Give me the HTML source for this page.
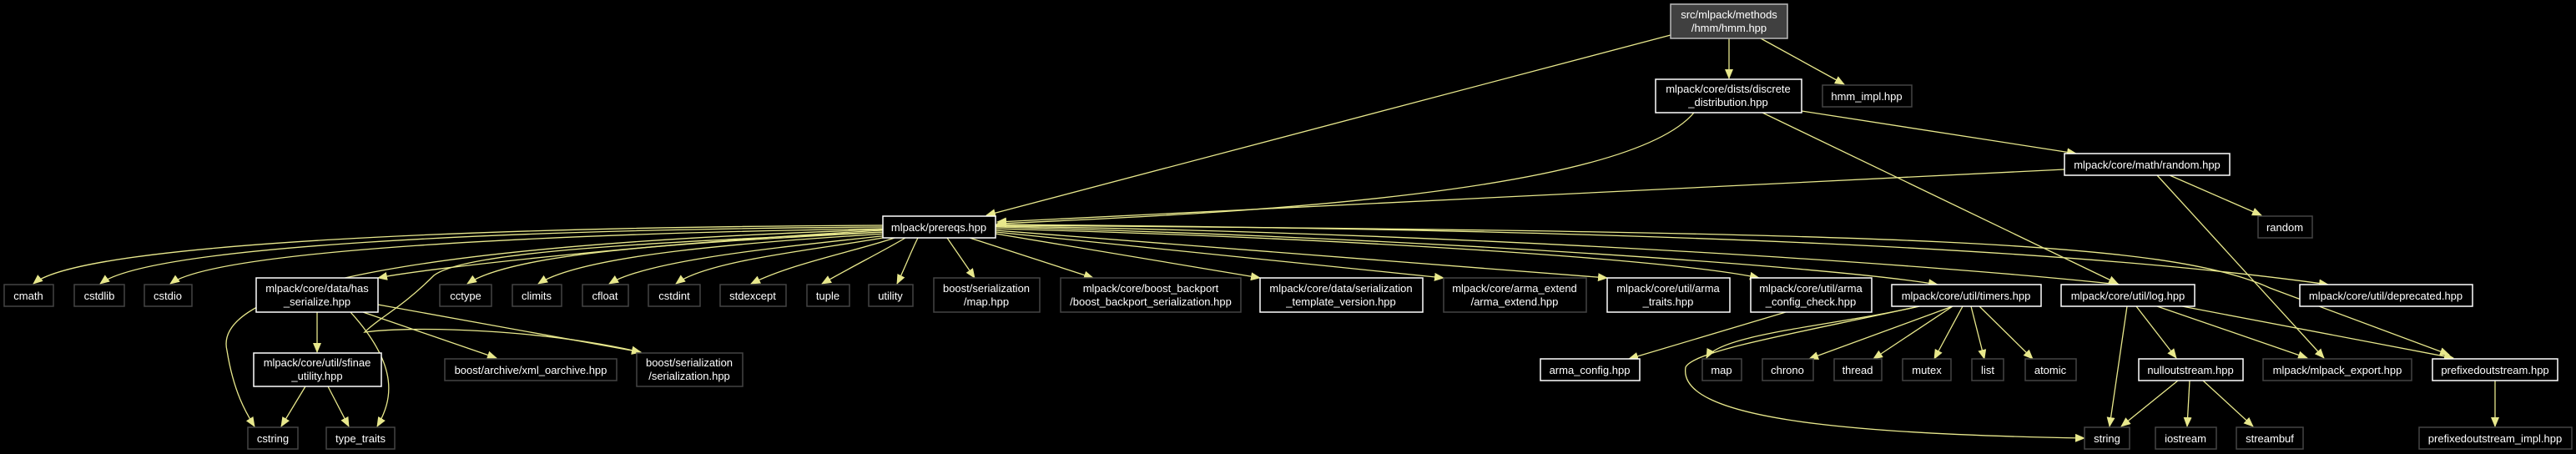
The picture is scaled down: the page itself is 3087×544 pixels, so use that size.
<!DOCTYPE html>
<html><head><meta charset="utf-8"><style>
html,body{margin:0;padding:0;background:#000;}
svg{display:block;}
text{font-family:"Liberation Sans",Arial,sans-serif;font-size:13px;fill:#fff;text-anchor:middle;}
.e{fill:none;stroke:#e8e88c;stroke-width:1.3;}
.W{fill:#000;stroke:#fff;stroke-width:1.5;}
.G{fill:#000;stroke:#444;stroke-width:1.5;}
</style></head><body>
<svg width="3087" height="544" viewBox="0 0 3087 544" xmlns="http://www.w3.org/2000/svg">
<defs><marker id="a" markerWidth="12" markerHeight="10" refX="11" refY="5" orient="auto" markerUnits="userSpaceOnUse"><path d="M0,0 L12,5 L0,10 z" fill="#e8e88c"/></marker></defs>
<g class="e" marker-end="url(#a)">
<path d="M2002,42 L1182,258"/>
<path d="M2072,46 L2072,94"/>
<path d="M2110,46 L2210,101"/>
<path d="M2030,135 C1950,230 1500,255 1195,268"/>
<path d="M2112,135 L2538,340"/>
<path d="M2159,133 L2488,184"/>
<path d="M2474,203 L1195,266"/>
<path d="M2600,210 L2710,258"/>
<path d="M2585,210 L2785,429"/>
<path d="M1058,270 C600,272 100,290 40,340"/>
<path d="M1058,272 C600,275 180,295 120,340"/>
<path d="M1058,274 C650,280 260,300 204,340"/>
<path d="M1058,276 C800,290 520,320 453,333"/>
<path d="M1060,278 C850,290 620,300 560,340"/>
<path d="M1062,280 C900,290 700,305 645,340"/>
<path d="M1064,282 C950,295 780,310 730,340"/>
<path d="M1068,283 C1000,297 850,310 810,340"/>
<path d="M1075,284 C1030,300 950,315 900,340"/>
<path d="M1085,285 C1060,300 1020,320 985,340"/>
<path d="M1100,285 C1090,305 1085,320 1075,340"/>
<path d="M1135,285 L1168,333"/>
<path d="M1162,285 L1310,333"/>
<path d="M1193,280 L1510,333"/>
<path d="M1193,278 L1730,333"/>
<path d="M1193,276 L1926,333"/>
<path d="M1193,274 C1600,285 2000,310 2108,333"/>
<path d="M1193,272 C1700,285 2200,320 2322,341"/>
<path d="M1193,271 C1800,280 2350,320 2540,341"/>
<path d="M1193,269 C2000,275 2500,300 2790,341"/>
<path d="M1193,270 C2300,278 2600,290 2720,345 L2935,425"/>
<path d="M1058,275 C600,290 250,330 272,420 C280,470 295,495 305,511"/>
<path d="M1058,278 C800,290 560,300 520,330 C480,370 455,380 437,398 C500,390 650,395 768,422"/>
<path d="M380,374 L380,422"/>
<path d="M420,374 C480,440 470,480 452,511"/>
<path d="M435,374 L595,429"/>
<path d="M453,365 L768,422"/>
<path d="M366,463 L337,511"/>
<path d="M393,463 L418,511"/>
<path d="M2140,374 L1952,430"/>
<path d="M2300,367 C2200,390 2060,400 2045,429"/>
<path d="M2300,367 C2150,400 2030,420 2020,440 C2010,500 2200,520 2498,525"/>
<path d="M2340,367 L2168,430"/>
<path d="M2340,367 L2245,430"/>
<path d="M2352,367 L2318,430"/>
<path d="M2362,367 L2378,430"/>
<path d="M2372,367 L2436,430"/>
<path d="M2549,367 L2528,511"/>
<path d="M2560,367 L2608,429"/>
<path d="M2585,367 L2765,429"/>
<path d="M2615,367 L2940,429"/>
<path d="M2610,456 L2542,511"/>
<path d="M2624,456 L2621,511"/>
<path d="M2640,456 L2700,511"/>
<path d="M2990,456 L2990,511"/>
</g>
<rect x="2002" y="5" width="140" height="41" fill="#404040" stroke="#bbb" stroke-width="1.5"/>
<text x="2072" y="22">src/mlpack/methods</text><text x="2072" y="38">/hmm/hmm.hpp</text>
<g>
<rect class="W" x="1984" y="95" width="175" height="40"/><text x="2071" y="111">mlpack/core/dists/discrete</text><text x="2071" y="127">_distribution.hpp</text>
<rect class="G" x="2184" y="102" width="107" height="26"/><text x="2237" y="120">hmm_impl.hpp</text>
<rect class="W" x="2474" y="184" width="198" height="26"/><text x="2573" y="202">mlpack/core/math/random.hpp</text>
<rect class="G" x="2706" y="259" width="65" height="26"/><text x="2738" y="277">random</text>
<rect class="W" x="1058" y="259" width="135" height="26"/><text x="1125" y="277">mlpack/prereqs.hpp</text>
<rect class="G" x="5" y="341" width="59" height="26"/><text x="34" y="359">cmath</text>
<rect class="G" x="89" y="341" width="60" height="26"/><text x="119" y="359">cstdlib</text>
<rect class="G" x="173" y="341" width="57" height="26"/><text x="201" y="359">cstdio</text>
<rect class="G" x="527" y="341" width="62" height="26"/><text x="558" y="359">cctype</text>
<rect class="G" x="614" y="341" width="59" height="26"/><text x="643" y="359">climits</text>
<rect class="G" x="698" y="341" width="55" height="26"/><text x="725" y="359">cfloat</text>
<rect class="G" x="777" y="341" width="62" height="26"/><text x="808" y="359">cstdint</text>
<rect class="G" x="863" y="341" width="79" height="26"/><text x="902" y="359">stdexcept</text>
<rect class="G" x="967" y="341" width="51" height="26"/><text x="992" y="359">tuple</text>
<rect class="G" x="1041" y="341" width="53" height="26"/><text x="1067" y="359">utility</text>
<rect class="W" x="307" y="333" width="146" height="41"/><text x="380" y="350">mlpack/core/data/has</text><text x="380" y="366">_serialize.hpp</text>
<rect class="G" x="1119" y="333" width="127" height="41"/><text x="1182" y="350">boost/serialization</text><text x="1182" y="366">/map.hpp</text>
<rect class="G" x="1271" y="333" width="216" height="41"/><text x="1379" y="350">mlpack/core/boost_backport</text><text x="1379" y="366">/boost_backport_serialization.hpp</text>
<rect class="W" x="1510" y="333" width="195" height="41"/><text x="1607" y="350">mlpack/core/data/serialization</text><text x="1607" y="366">_template_version.hpp</text>
<rect class="G" x="1730" y="333" width="171" height="41"/><text x="1815" y="350">mlpack/core/arma_extend</text><text x="1815" y="366">/arma_extend.hpp</text>
<rect class="W" x="1926" y="333" width="147" height="41"/><text x="1999" y="350">mlpack/core/util/arma</text><text x="1999" y="366">_traits.hpp</text>
<rect class="W" x="2098" y="333" width="145" height="41"/><text x="2170" y="350">mlpack/core/util/arma</text><text x="2170" y="366">_config_check.hpp</text>
<rect class="W" x="2267" y="341" width="179" height="26"/><text x="2356" y="359">mlpack/core/util/timers.hpp</text>
<rect class="W" x="2470" y="341" width="160" height="26"/><text x="2550" y="359">mlpack/core/util/log.hpp</text>
<rect class="W" x="2756" y="341" width="207" height="26"/><text x="2859" y="359">mlpack/core/util/deprecated.hpp</text>
<rect class="W" x="304" y="423" width="153" height="40"/><text x="380" y="439">mlpack/core/util/sfinae</text><text x="380" y="455">_utility.hpp</text>
<rect class="G" x="533" y="430" width="206" height="26"/><text x="636" y="448">boost/archive/xml_oarchive.hpp</text>
<rect class="G" x="763" y="423" width="127" height="40"/><text x="826" y="439">boost/serialization</text><text x="826" y="455">/serialization.hpp</text>
<rect class="W" x="1846" y="430" width="119" height="26"/><text x="1905" y="448">arma_config.hpp</text>
<rect class="G" x="2040" y="430" width="47" height="26"/><text x="2063" y="448">map</text>
<rect class="G" x="2112" y="430" width="61" height="26"/><text x="2142" y="448">chrono</text>
<rect class="G" x="2198" y="430" width="57" height="26"/><text x="2226" y="448">thread</text>
<rect class="G" x="2280" y="430" width="58" height="26"/><text x="2309" y="448">mutex</text>
<rect class="G" x="2363" y="430" width="38" height="26"/><text x="2382" y="448">list</text>
<rect class="G" x="2427" y="430" width="61" height="26"/><text x="2457" y="448">atomic</text>
<rect class="W" x="2563" y="430" width="125" height="26"/><text x="2625" y="448">nulloutstream.hpp</text>
<rect class="G" x="2712" y="430" width="178" height="26"/><text x="2801" y="448">mlpack/mlpack_export.hpp</text>
<rect class="W" x="2915" y="430" width="150" height="26"/><text x="2990" y="448">prefixedoutstream.hpp</text>
<rect class="G" x="297" y="512" width="60" height="26"/><text x="327" y="530">cstring</text>
<rect class="G" x="391" y="512" width="82" height="26"/><text x="432" y="530">type_traits</text>
<rect class="G" x="2498" y="512" width="54" height="26"/><text x="2525" y="530">string</text>
<rect class="G" x="2583" y="512" width="73" height="26"/><text x="2619" y="530">iostream</text>
<rect class="G" x="2680" y="512" width="80" height="26"/><text x="2720" y="530">streambuf</text>
<rect class="G" x="2899" y="512" width="183" height="26"/><text x="2990" y="530">prefixedoutstream_impl.hpp</text>
</g>
</svg>
</body></html>
